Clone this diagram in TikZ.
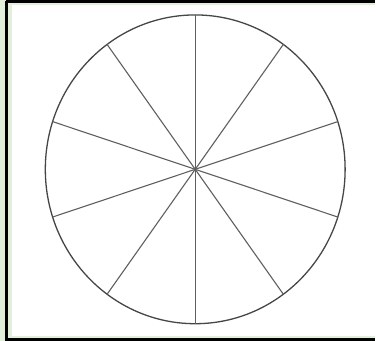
\documentclass[tikz,border=0pt]{standalone}
\usepackage{tikz}
\usetikzlibrary{calc}
\definecolor{paleback}{RGB}{226,239,218}
\definecolor{rimline}{RGB}{70,70,70}
\definecolor{spokeline}{RGB}{95,95,95}

\begin{document}
\begin{tikzpicture}[
  x=1pt, y=-1pt,
  frame/.style={draw=black, line width=3pt},
  rim/.style={draw=rimline, line width=1.3pt},
  spoke/.style={draw=spokeline, line width=1.1pt}
]
% background and frame
\fill[paleback] (0,0) rectangle (376,342);
\fill[white] (12,5) rectangle (376,337);
\draw[frame] (6.5,1.5) -- (6.5,340.5) -- (376,340.5);
\draw[frame] (6.5,1.5) -- (376,1.5);
\useasboundingbox (0,0) rectangle (376,342);

% wheel
\coordinate (hub) at (196,170);
\draw[rim] (hub) ellipse [x radius=150.5, y radius=155];
\foreach \k in {0,...,9}{
  \coordinate (tip\k) at ($(hub)+({150.5*cos(90+36*\k)},{-155*sin(90+36*\k)})$);
  \draw[spoke] (hub) -- (tip\k);
}
\end{tikzpicture}
\end{document}
